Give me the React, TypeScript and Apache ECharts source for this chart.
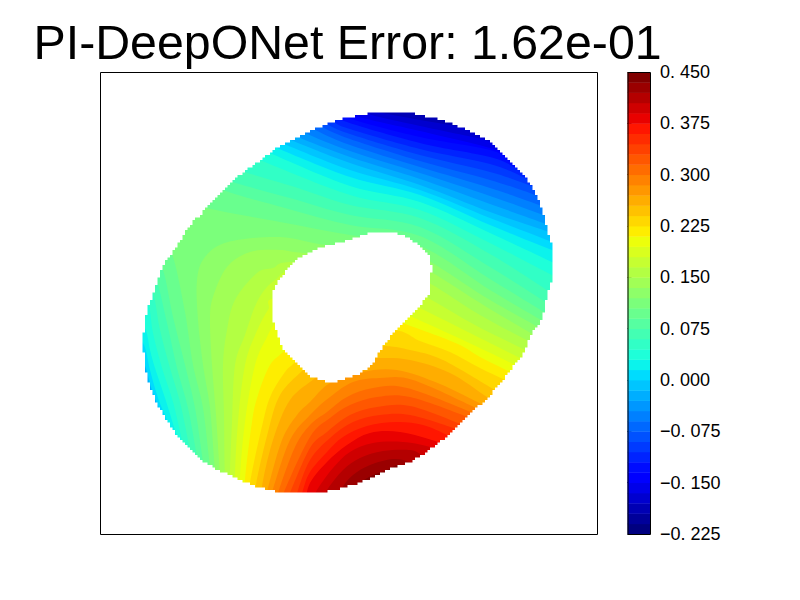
import React, { useEffect, useRef } from "react";
import * as echarts from "echarts";

const titleText = "PI-DeepONet Error: 1.62e-01";
const tickLabels = ["\u22120. 225", "\u22120. 150", "\u22120. 075", "0. 000", "0. 075", "0. 150", "0. 225", "0. 300", "0. 375", "0. 450"];
const levelMin = -0.225;
const levelMax = 0.45;
const levelStep = 0.015;
const bandCount = 45;
const bandIndices = Array.from({ length: bandCount }, (_, i) => i);
const baseBand = 2;

const outerBoundary = [[375,113],[407,113],[423,116],[447,122],[467,130],[487,140],[503,155],[517,168],[527,180],[537,197],[543,213],[548,232],[552,247],[552,277],[548,293],[542,318],[533,333],[523,355],[513,367],[505,378],[495,390],[488,398],[468,417],[452,432],[438,444],[422,455],[410,462],[398,466],[385,472],[365,481],[343,488],[320,492],[290,493],[262,488],[230,475],[210,465],[200,458],[180,438],[172,428],[165,417],[155,398],[147,375],[144,358],[144,328],[148,308],[155,288],[163,265],[172,253],[182,237],[190,225],[207,207],[223,190],[243,172],[260,160],[277,148],[297,137],[323,125],[350,117]];
const holeBoundary = [[350,240],[330,245],[310,253],[293,263],[285,273],[275,287],[272,297],[272,315],[277,332],[283,348],[295,362],[310,376],[330,382],[340,380],[360,373],[373,362],[381,350],[388,340],[395,330],[408,318],[420,305],[426,298],[430,290],[431,260],[425,250],[412,240],[402,235],[392,233],[373,233],[362,236]];

const iso03 = [[120,460],[120,280],[190,170],[270,110],[345,100],[375,111],[420,120],[465,128],[482,136]];
const iso04 = [[120,460],[120,280],[190,170],[270,110],[345,100],[365,113],[420,126],[485,140],[497,147]];
const iso05 = [[120,460],[120,280],[190,170],[270,110],[340,105],[356,116],[420,131],[497,150],[510,160]];
const iso06 = [[120,460],[120,280],[190,170],[270,110],[335,108],[348,118],[420,137],[490,150],[508,160],[518,167]];
const iso07 = [[120,460],[120,280],[190,170],[270,110],[330,110],[341,120],[420,143],[490,157],[516,168],[526,174]];
const iso08 = [[120,460],[120,280],[190,170],[265,110],[322,112],[334,122],[350,129],[420,149],[490,164],[523,177],[533,183]];
const iso09 = [[120,460],[120,280],[190,170],[260,115],[315,115],[327,124],[350,134],[420,155],[490,172],[529,185],[540,191]];
const iso10 = [[120,460],[120,280],[190,170],[255,120],[305,117],[320,126],[350,139],[420,161],[490,180],[535,195],[546,201]];
const iso11 = [[120,460],[120,280],[190,170],[250,125],[298,120],[313,129],[350,145],[420,167],[490,188],[539,205],[550,211]];
const iso12 = [[120,460],[120,280],[190,170],[245,130],[290,124],[305,133],[350,151],[420,173],[490,196],[543,215],[555,221]];
const iso13 = [[120,460],[120,280],[190,170],[235,135],[283,128],[298,137],[350,157],[420,179],[490,204],[546,224],[558,230]];
const iso14 = [[160,418],[157,405],[150,385],[143,362],[125,330],[180,180],[276,132],[291,140],[350,163],[420,185],[490,212],[549,232],[562,238]];
const iso15 = [[163,418],[160,410],[152,390],[146,368],[138,350],[125,320],[180,175],[268,137],[284,144],[350,170],[420,190],[490,218],[552,242],[565,248]];
const iso16 = [[170,428],[167,420],[158,398],[150,370],[144,345],[132,330],[130,300],[190,170],[262,140],[277,148],[350,177],[420,195],[490,225],[552,250],[565,255]];
const iso17 = [[178,438],[175,430],[165,398],[155,368],[150,350],[145,328],[132,315],[135,280],[195,165],[255,145],[270,153],[350,186],[420,202],[490,233],[552,262],[565,267]];
const iso18 = [[185,448],[182,440],[173,402],[162,368],[153,333],[148,303],[136,295],[140,265],[200,160],[245,152],[260,160],[350,195],[420,210],[490,243],[552,275],[565,280]];
const iso19 = [[193,457],[190,449],[180,402],[170,368],[160,330],[153,293],[142,280],[150,250],[205,165],[235,165],[245,172],[295,187],[350,205],[420,218],[490,254],[550,292],[562,298]];
const iso20 = [[200,465],[197,456],[188,408],[177,368],[167,323],[157,282],[147,270],[158,240],[210,170],[225,175],[233,182],[290,198],[350,215],[420,227],[490,267],[547,303],[560,310]];
const iso21 = [[206,470],[203,461],[195,408],[185,365],[173,317],[163,270],[152,258],[165,232],[210,178],[223,190],[285,208],[350,225],[420,236],[490,279],[544,312],[556,319]];
const iso22 = [[213,475],[210,466],[203,408],[193,365],[185,312],[173,257],[163,248],[178,222],[198,200],[207,208],[280,222],[350,235],[420,246],[490,290],[541,320],[553,327]];
const iso23 = [[218,478],[215,469],[210,408],[203,365],[198,320],[197,280],[205,257],[228,242],[280,237],[327,245],[400,248],[431,262],[485,297],[538,327],[550,334]];
const iso24 = [[223,481],[220,472],[216,415],[212,365],[210,320],[213,297],[227,267],[250,252],[280,250],[305,253],[400,258],[431,272],[485,306],[534,335],[546,342]];
const iso25 = [[228,484],[225,474],[224,415],[223,365],[227,330],[235,300],[257,273],[273,268],[295,262],[400,270],[431,284],[480,315],[530,342],[542,349]];
const iso26 = [[233,487],[230,477],[232,422],[235,365],[245,335],[258,300],[275,280],[300,270],[396,283],[426,297],[475,325],[525,350],[537,357]];
const iso27 = [[238,489],[235,479],[238,422],[245,365],[256,333],[268,310],[280,297],[388,293],[418,307],[470,333],[520,358],[532,365]];
const iso28 = [[243,490],[240,480],[245,422],[255,365],[267,337],[275,323],[290,305],[380,302],[410,316],[465,341],[515,365],[527,372]];
const iso29 = [[248,491],[245,481],[252,422],[258,395],[270,365],[285,350],[305,325],[375,310],[403,323],[430,333],[460,345],[480,357],[510,372],[522,379]];
const iso30 = [[253,492],[250,483],[263,422],[271,395],[285,372],[295,362],[320,335],[392,330],[420,341],[450,352],[480,368],[505,380],[517,387]];
const iso31 = [[259,494],[256,485],[268,432],[280,395],[303,370],[330,345],[385,346],[410,350],[443,360],[495,390],[507,397]];
const iso32 = [[265,496],[262,487],[273,440],[290,400],[315,378],[335,360],[378,358],[410,360],[450,373],[487,397],[499,404]];
const iso33 = [[266,497],[268,488],[282,440],[297,415],[310,402],[330,383],[362,372],[397,370],[440,384],[481,404],[493,411]];
const iso34 = [[271,498],[273,489],[290,440],[310,415],[330,397],[353,382],[380,378],[413,380],[476,408],[488,415]];
const iso35 = [[277,500],[279,490],[295,447],[310,425],[327,412],[347,397],[373,388],[407,388],[471,412],[483,419]];
const iso36 = [[282,502],[284,492],[310,437],[330,418],[350,405],[377,397],[410,397],[465,416],[477,423]];
const iso37 = [[287,503],[290,493],[310,448],[327,432],[350,415],[377,407],[410,406],[458,423],[470,430]];
const iso38 = [[295,503],[297,493],[310,460],[330,438],[353,422],[380,415],[410,415],[453,428],[465,435]];
const iso39 = [[300,503],[303,490],[310,472],[327,452],[343,437],[367,426],[397,422],[423,425],[447,435],[460,443]];
const iso40 = [[305,503],[310,483],[327,462],[347,445],[370,433],[400,432],[438,442],[450,450]];
const iso41 = [[312,503],[317,490],[333,468],[350,452],[373,443],[403,442],[430,447],[442,455]];
const iso42 = [[322,503],[327,490],[343,470],[360,458],[383,451],[410,450],[422,455],[434,463]];
const iso43 = [[338,500],[342,488],[353,475],[370,465],[393,459],[410,462],[420,470]];
const iso44 = [[350,500],[358,485],[373,475],[387,470],[398,465],[408,472]];

const isolines = [iso03,iso04,iso05,iso06,iso07,iso08,iso09,iso10,iso11,iso12,iso13,iso14,iso15,iso16,iso17,iso18,iso19,iso20,iso21,iso22,iso23,iso24,iso25,iso26,iso27,iso28,iso29,iso30,iso31,iso32,iso33,iso34,iso35,iso36,iso37,iso38,iso39,iso40,iso41,iso42,iso43,iso44];
const firstIsoBand = 3;

const xDomain = [100, 597];
const yDomain = [72, 534];

const jetR = [[0,0],[0.35,0],[0.66,1],[0.89,1],[1,0.5]];
const jetG = [[0,0],[0.125,0],[0.375,1],[0.64,1],[0.91,0],[1,0]];
const jetB = [[0,0.5],[0.11,1],[0.34,1],[0.65,0],[1,0]];
function lut(table: number[][], t: number) {
  for (let i = 1; i < table.length; i++) {
    if (t <= table[i][0]) {
      const [a, va] = table[i - 1];
      const [b, vb] = table[i];
      return va + ((vb - va) * (t - a)) / (b - a);
    }
  }
  return table[table.length - 1][1];
}
function bandColor(k: number) {
  const t = k / (bandCount - 1);
  const c = (tb: number[][]) => Math.round(lut(tb, t) * 255);
  return `rgb(${c(jetR)},${c(jetG)},${c(jetB)})`;
}

function splineTo(p: number[][]) {
  let d = "";
  for (let i = 0; i < p.length - 1; i++) {
    const p0 = p[Math.max(i - 1, 0)];
    const p1 = p[i];
    const p2 = p[i + 1];
    const p3 = p[Math.min(i + 2, p.length - 1)];
    const c1 = [p1[0] + (p2[0] - p0[0]) / 6, p1[1] + (p2[1] - p0[1]) / 6];
    const c2 = [p2[0] - (p3[0] - p1[0]) / 6, p2[1] - (p3[1] - p1[1]) / 6];
    d += `C${c1[0]} ${c1[1]} ${c2[0]} ${c2[1]} ${p2[0]} ${p2[1]}`;
  }
  return d;
}
function ring(p: number[][]) {
  return "M" + p.map((q) => `${q[0]} ${q[1]}`).join("L") + "Z";
}
// The reference's mesh edge is pixel-stepped: trace a closed curve on a coarse raster.
function steppedRing(p: number[][], cell: number) {
  const n = p.length;
  const out: number[][] = [];
  for (let i = 0; i < n; i++) {
    const p0 = p[(i - 1 + n) % n], p1 = p[i], p2 = p[(i + 1) % n], p3 = p[(i + 2) % n];
    for (let s = 0; s < 16; s++) {
      const u = s / 16, u2 = u * u, u3 = u2 * u;
      const f = (a: number, b: number, c: number, d: number) =>
        0.5 * (2 * b + (c - a) * u + (2 * a - 5 * b + 4 * c - d) * u2 + (3 * b - a - 3 * c + d) * u3);
      const x = Math.round(f(p0[0], p1[0], p2[0], p3[0]) / cell) * cell;
      const y = Math.round(f(p0[1], p1[1], p2[1], p3[1]) / cell) * cell;
      const last = out[out.length - 1];
      if (last && (last[0] !== x || last[1] !== y)) {
        if (last[0] !== x && last[1] !== y) out.push([x, last[1]]);
      }
      if (!last || last[0] !== x || last[1] !== y) out.push([x, y]);
    }
  }
  return out;
}

export default function App() {
  const ref = useRef<HTMLDivElement>(null);
  useEffect(() => {
    document.body.style.margin = "0";
    document.body.style.background = "#fff";
    const chart = echarts.init(ref.current!, null, { renderer: "svg" });

    const bandsRender = (params: any, api: any) => {
      const idx = api.value(0);
      const toPx = (q: number[]) => api.coord(q);
      if (idx < 0) {
        const a = toPx([xDomain[0], yDomain[0]]);
        const b = toPx([xDomain[1], yDomain[1]]);
        return { type: "rect", shape: { x: a[0], y: a[1], width: b[0] - a[0], height: b[1] - a[1] }, style: { fill: bandColor(baseBand) } };
      }
      const line = isolines[idx];
      const px = line.map(toPx);
      const last = line[line.length - 1];
      const closing = [[xDomain[1], last[1]], [xDomain[1], yDomain[1]], [line[0][0], yDomain[1]]].map(toPx);
      const d = `M${px[0][0]} ${px[0][1]}` + splineTo(px) + closing.map((q) => `L${q[0]} ${q[1]}`).join("") + "Z";
      return { type: "path", shape: { pathData: d }, style: { fill: bandColor(firstIsoBand + idx) } };
    };
    const maskRender = (params: any, api: any) => {
      const corners = [[xDomain[0], yDomain[0]], [xDomain[0], yDomain[1]], [xDomain[1], yDomain[1]], [xDomain[1], yDomain[0]]].map((q) => api.coord(q));
      const outer = steppedRing(outerBoundary.map((q) => api.coord(q)), 2.5);
      const hole = steppedRing(holeBoundary.map((q) => api.coord(q)), 2.5);
      return {
        type: "group",
        children: [
          { type: "path", shape: { pathData: ring(corners) + ring(outer) }, style: { fill: "#fff" } },
          { type: "path", shape: { pathData: ring(hole) }, style: { fill: "#fff" } },
          { type: "rect", shape: { x: corners[0][0] + 0.5, y: corners[0][1] + 0.5, width: corners[3][0] - corners[0][0], height: corners[1][1] - corners[0][1] }, style: { fill: "none", stroke: "#000", lineWidth: 1 } },
        ],
      };
    };
    const barRender = (params: any, api: any) => {
      const k = api.value(0);
      const lo = levelMin + k * levelStep;
      const a = api.coord([0, lo + levelStep]);
      const b = api.coord([1, lo]);
      return { type: "rect", shape: { x: a[0], y: a[1], width: b[0] - a[0], height: b[1] - a[1] + 0.4 }, style: { fill: bandColor(k), stroke: null } };
    };
    const barFrameRender = (params: any, api: any) => {
      const a = api.coord([0, levelMax]);
      const b = api.coord([1, levelMin]);
      return { type: "rect", shape: { x: a[0] + 0.5, y: a[1] + 0.5, width: b[0] - a[0], height: b[1] - a[1] }, style: { fill: "none", stroke: "#000", lineWidth: 1 } };
    };

    chart.setOption({
      animation: false,
      backgroundColor: "#fff",
      title: {
        text: titleText,
        left: 28.5,
        top: 13,
        textStyle: { fontFamily: "Liberation Sans", fontSize: 48.3, fontWeight: "normal", color: "#000" },
      },
      grid: [
        { left: 100, top: 72, width: 497, height: 462 },
        { left: 627.5, top: 72, width: 22.5, height: 462 },
      ],
      xAxis: [
        { type: "value", gridIndex: 0, min: xDomain[0], max: xDomain[1], show: false },
        { type: "value", gridIndex: 1, min: 0, max: 1, show: false },
      ],
      yAxis: [
        { type: "value", gridIndex: 0, min: yDomain[0], max: yDomain[1], inverse: true, show: false },
        {
          type: "value",
          gridIndex: 1,
          min: levelMin,
          max: levelMax,
          interval: 0.075,
          position: "right",
          axisLine: { show: false },
          splitLine: { show: false },
          axisTick: { show: true, length: 4, lineStyle: { color: "#000", width: 1 } },
          axisLabel: {
            show: true,
            margin: 10,
            color: "#000",
            fontFamily: "Liberation Sans",
            fontSize: 18,
            formatter: (_: number, i: number) => tickLabels[i],
          },
        },
      ],
      series: [
        { type: "custom", coordinateSystem: "cartesian2d", xAxisIndex: 0, yAxisIndex: 0, renderItem: bandsRender, data: [[-1], ...isolines.map((_, i) => [i])], encode: { x: -1, y: -1 } },
        { type: "custom", coordinateSystem: "cartesian2d", xAxisIndex: 0, yAxisIndex: 0, renderItem: maskRender, data: [[0]], encode: { x: -1, y: -1 } },
        { type: "custom", coordinateSystem: "cartesian2d", xAxisIndex: 1, yAxisIndex: 1, renderItem: barRender, data: bandIndices.map((k) => [k]), encode: { x: -1, y: -1 } },
        { type: "custom", coordinateSystem: "cartesian2d", xAxisIndex: 1, yAxisIndex: 1, renderItem: barFrameRender, data: [[0]], encode: { x: -1, y: -1 } },
      ],
    });
    return () => chart.dispose();
  }, []);
  return <div ref={ref} style={{ width: 800, height: 600 }} />;
}
